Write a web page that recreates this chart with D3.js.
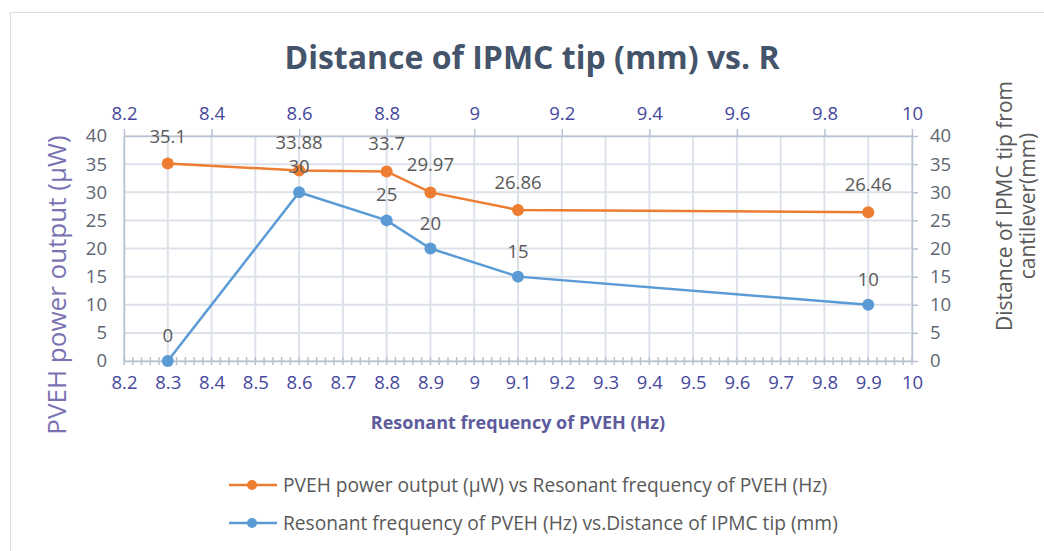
<!DOCTYPE html>
<html>
<head>
<meta charset="utf-8">
<script src="https://cdn.jsdelivr.net/npm/d3@7"></script>
<style>
  body { margin: 0; background: #fff; }
  text { font-family: "Open Sans", Lato, sans-serif; }
</style>
</head>
<body>
<script>
// data
var freq = [8.3, 8.6, 8.8, 8.9, 9.1, 9.9];
var power = [35.1, 33.88, 33.7, 29.97, 26.86, 26.46];
var distance = [0, 30, 25, 20, 15, 10];
var topTicks = [8.2, 8.4, 8.6, 8.8, 9, 9.2, 9.4, 9.6, 9.8, 10];
var bottomTicks = d3.range(82, 101).map(function (d) { return d / 10; });
var yTicks = [0, 5, 10, 15, 20, 25, 30, 35, 40];
var seriesNames = ["PVEH power output (\u03bcW) vs Resonant frequency of PVEH (Hz)",
                   "Resonant frequency of PVEH (Hz) vs.Distance of IPMC tip (mm)"];

var W = 1044, H = 551;
var margin = {top: 136, right: 132, bottom: 190, left: 124},
    width = W - margin.left - margin.right,
    height = H - margin.top - margin.bottom;

var orange = "#ED7D31", blue = "#5B9BD5";
var gridColor = "#dde2ea", axisColor = "#b8c2d2";
var tickBlue = "#46489c", tickGray = "#5f6673";
var fontFam = "'Open Sans', Lato, sans-serif";
var fs = "18.5px";

var svg = d3.select("body").append("svg")
    .attr("width", W).attr("height", H);

// chart frame
svg.append("rect")
    .attr("x", 10.5).attr("y", 12.5)
    .attr("width", W + 20).attr("height", H + 20)
    .attr("fill", "none").attr("stroke", "#dadde3");

var g = svg.append("g")
    .attr("transform", "translate(" + margin.left + "," + margin.top + ")");

var x = d3.scaleLinear().domain([8.2, 10]).range([0, width]);
var y = d3.scaleLinear().domain([0, 40]).range([height, 0]);

// grid
g.append("g").selectAll("line").data(bottomTicks).enter().append("line")
    .attr("x1", function (d) { return x(d); }).attr("x2", function (d) { return x(d); })
    .attr("y1", 0).attr("y2", height)
    .attr("stroke", gridColor).attr("stroke-width", 2);
g.append("g").selectAll("line").data(yTicks).enter().append("line")
    .attr("x1", 0).attr("x2", width)
    .attr("y1", function (d) { return y(d); }).attr("y2", function (d) { return y(d); })
    .attr("stroke", gridColor).attr("stroke-width", 2);

function styleAxis(sel, color) {
  sel.select(".domain").attr("stroke", axisColor).attr("stroke-width", 1.5);
  sel.selectAll(".tick line").attr("stroke", axisColor).attr("stroke-width", 1.5);
  sel.selectAll(".tick text").attr("fill", color).style("font-size", fs)
      .style("font-family", fontFam);
}

// bottom axis with minor ticks
var minor = d3.range(0, 91).map(function (i) { return 8.2 + i * 0.02; });
g.append("g").selectAll("line").data(minor).enter().append("line")
    .attr("x1", function (d) { return x(d); }).attr("x2", function (d) { return x(d); })
    .attr("y1", height - 4).attr("y2", height + 4)
    .attr("stroke", axisColor).attr("stroke-width", 1.5);
var xb = g.append("g").attr("transform", "translate(0," + height + ")")
    .call(d3.axisBottom(x).tickValues(bottomTicks).tickSize(0).tickPadding(15)
      .tickFormat(function (d) { return d3.format("~g")(d); }));
styleAxis(xb, tickBlue);

// top axis
var xt = g.append("g")
    .call(d3.axisTop(x).tickValues(topTicks).tickSizeOuter(0).tickSizeInner(7).tickPadding(9)
      .tickFormat(function (d) { return d3.format("~g")(d); }));
styleAxis(xt, tickBlue);

// left axis
var yl = g.append("g")
    .call(d3.axisLeft(y).tickValues(yTicks).tickSizeOuter(0).tickSizeInner(0).tickPadding(17));
styleAxis(yl, tickGray);

// right axis
var yr = g.append("g").attr("transform", "translate(" + width + ",0)")
    .call(d3.axisRight(y).tickValues(yTicks).tickSizeOuter(0).tickSizeInner(6).tickPadding(12));
styleAxis(yr, tickGray);

// series
var line = d3.line().x(function (d) { return x(d[0]); }).y(function (d) { return y(d[1]); });
function drawSeries(vals, color, dy) {
  var pts = freq.map(function (f, i) { return [f, vals[i]]; });
  g.append("path").datum(pts)
      .attr("fill", "none").attr("stroke", color).attr("stroke-width", 2.5)
      .attr("d", line);
  g.append("g").selectAll("circle").data(pts).enter().append("circle")
      .attr("cx", function (d) { return x(d[0]); })
      .attr("cy", function (d) { return y(d[1]); })
      .attr("r", 6).attr("fill", color);
  g.append("g").selectAll("text").data(pts).enter().append("text")
      .attr("x", function (d) { return x(d[0]); })
      .attr("y", function (d) { return y(d[1]) - dy; })
      .attr("text-anchor", "middle")
      .attr("fill", "#595959").style("font-size", fs)
      .text(function (d) { return d[1]; });
}
drawSeries(power, orange, 21);
drawSeries(distance, blue, 19);

// titles
svg.append("text").attr("x", 532).attr("y", 69).attr("text-anchor", "middle")
    .attr("fill", "#44546A").style("font-size", "32px").style("font-weight", "bold")
    .text("Distance of IPMC tip (mm) vs. R");

svg.append("text").attr("x", 518).attr("y", 429).attr("text-anchor", "middle")
    .attr("fill", "#5e5b9c").style("font-size", "18px").style("font-weight", "bold")
    .text("Resonant frequency of PVEH (Hz)");

svg.append("text").attr("transform", "translate(66,285) rotate(-90)")
    .attr("text-anchor", "middle")
    .attr("fill", "#7a72b2").style("font-size", "26px")
    .text("PVEH power output (\u03bcW)");

var rt = svg.append("text").attr("transform", "translate(1012,206) rotate(-90)")
    .attr("text-anchor", "middle")
    .attr("fill", "#595959").style("font-size", "21px");
rt.append("tspan").attr("x", 0).attr("dy", 0).text("Distance of IPMC tip from");
rt.append("tspan").attr("x", 0).attr("dy", 23).text("cantilever(mm)");

// legend
var legend = svg.append("g");
[orange, blue].forEach(function (c, i) {
  var ly = 485 + i * 38;
  legend.append("line").attr("x1", 229).attr("x2", 277).attr("y1", ly).attr("y2", ly)
      .attr("stroke", c).attr("stroke-width", 2.5);
  legend.append("circle").attr("cx", 252).attr("cy", ly).attr("r", 5).attr("fill", c);
  legend.append("text").attr("x", 283).attr("y", ly + 7)
      .attr("fill", "#595959").style("font-size", "19.2px")
      .text(seriesNames[i]);
});
</script>
</body>
</html>
